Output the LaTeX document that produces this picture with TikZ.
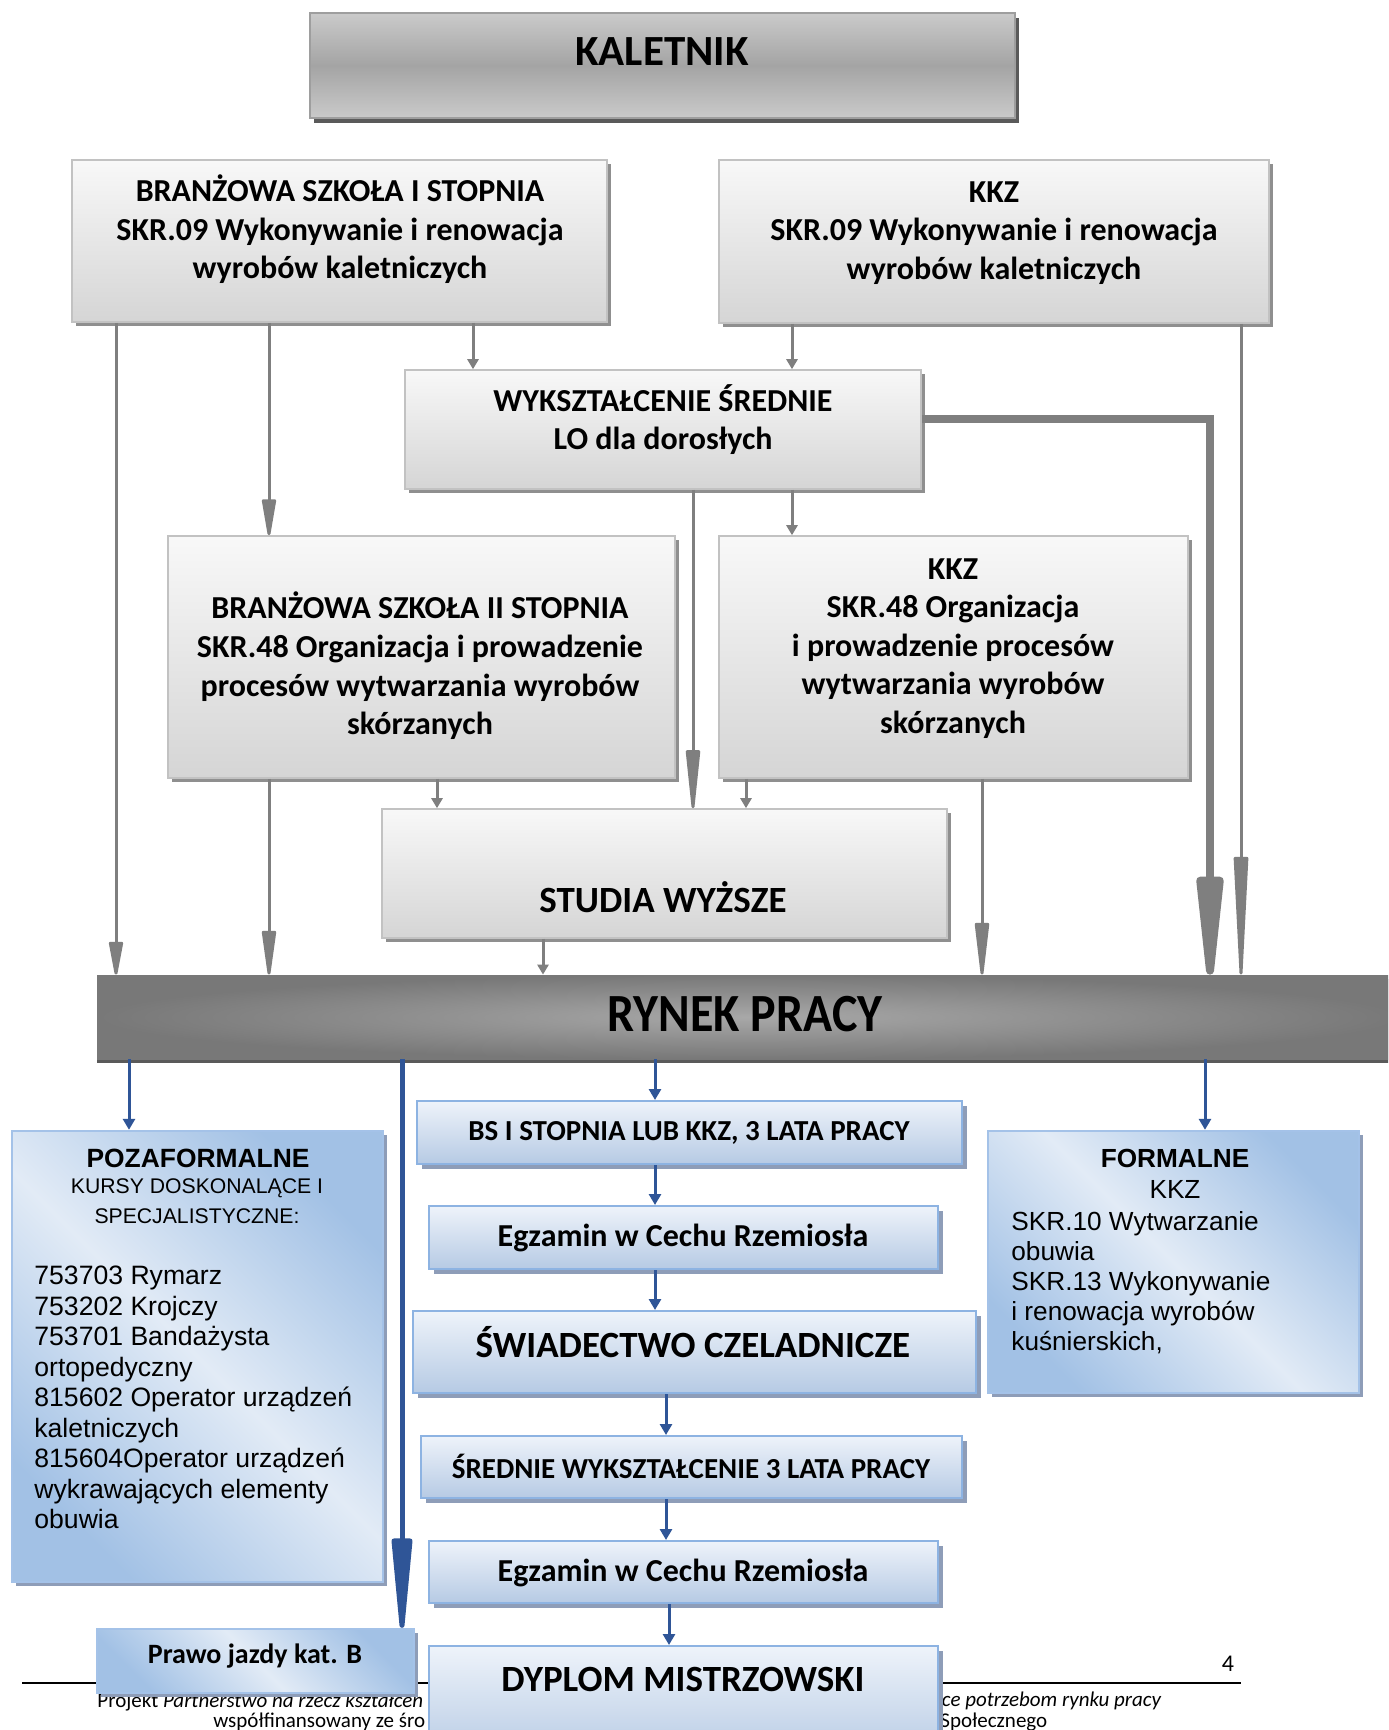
\documentclass[tikz,border=0pt]{standalone}
\usepackage{fontspec}
\setmainfont{Carlito}
\newfontfamily\arialf{Liberation Sans}
\usetikzlibrary{arrows.meta,fit,shadows,calc}
\definecolor{gtop}{HTML}{F8F8F8}
\definecolor{gbot}{HTML}{D5D5D5}
\definecolor{gbord}{HTML}{C2C2C2}
\definecolor{gshad}{HTML}{8F8F8F}
\definecolor{ktop}{HTML}{CACACA}
\definecolor{kmid}{HTML}{A4A4A4}
\definecolor{kbord}{HTML}{9E9E9E}
\definecolor{kshad}{HTML}{5A5A5A}
\definecolor{rin}{HTML}{A8A8A8}
\definecolor{rout}{HTML}{787878}
\definecolor{btop}{HTML}{EEF3FA}
\definecolor{bbot}{HTML}{B6CAE4}
\definecolor{bbord}{HTML}{8DB3E2}
\definecolor{bshad}{HTML}{8E9DB8}
\definecolor{dlight}{HTML}{E2EBF6}
\definecolor{ddark}{HTML}{A2C1E5}
\definecolor{garrow}{HTML}{7F7F7F}
\definecolor{barrow}{HTML}{2F5597}
\pgfdeclarehorizontalshading{diagblue}{100bp}{color(0bp)=(ddark); color(25bp)=(ddark); color(50bp)=(dlight); color(75bp)=(ddark); color(100bp)=(ddark)}
\pgfdeclareverticalshading{kshade}{100bp}{color(0bp)=(ktop); color(25bp)=(ktop); color(50bp)=(kmid); color(75bp)=(ktop); color(100bp)=(ktop)}
\begin{document}
\begin{tikzpicture}[x=0.5pt,y=-0.5pt,
  graybox/.style={draw=gbord, line width=0.8pt, top color=gtop, bottom color=gbot,
    general shadow={fill=gshad, shadow xshift=2pt, shadow yshift=-2pt}, inner sep=0pt},
  titlebox/.style={draw=kbord, line width=1.2pt, shade, shading=kshade,
    general shadow={fill=kshad, shadow xshift=2pt, shadow yshift=-2.5pt}, inner sep=0pt},
  marketbox/.style={inner color=rin, outer color=rout,
    general shadow={fill=kshad, shadow xshift=0pt, shadow yshift=-2pt}, inner sep=0pt},
  bluebox/.style={draw=bbord, line width=1pt, top color=btop, bottom color=bbot,
    general shadow={fill=bshad, shadow xshift=2.5pt, shadow yshift=-2.5pt}, inner sep=0pt},
  diagbox/.style={draw=bbord!80, line width=1.2pt, shade, shading=diagblue, shading angle=45,
    general shadow={fill=bshad, shadow xshift=2pt, shadow yshift=-2pt}, inner sep=0pt},
  gtext/.style={font=\fontsize{16}{19.3}\selectfont\bfseries, align=center, inner sep=0pt},
  btext/.style={font=\fontsize{#1}{#1}\selectfont\bfseries, inner sep=0pt},
  garr/.style={draw=garrow, line width=1.5pt, -{Triangle[length=5pt,width=5.5pt]}},
  garrl/.style={draw=garrow, line width=1.5pt, -{Triangle[length=#1,width=7pt,round]}},
  barr/.style={draw=barrow, line width=1.5pt, -{Triangle[length=5.5pt,width=6pt]}},
  foot/.style={font=\fontsize{10.5}{12}\selectfont, inner sep=0pt}
]
\path[use as bounding box, clip] (0,0) rectangle (1388,1730);
\fill[white] (0,0) rectangle (1388,1730);

% footer (behind boxes)
\coordinate (fl) at (22,1683);
\coordinate (fr) at (1241,1683);
\draw[line width=0.6pt] (fl) -- (fr);
\node[anchor=west, foot] (f1) at (97,1702) {Projekt \textit{Partnerstwo na rzecz kształcen}};
\node[anchor=east, foot] (f2) at (1162,1701) {\textit{ce potrzebom rynku pracy}};
\node[anchor=west, foot] (f3) at (213,1722) {współfinansowany ze śro};
\node[anchor=west, foot] (f4) at (940,1722) {Społecznego};
\node[font=\fontsize{12}{14}\selectfont, inner sep=0pt] (pg) at (1228,1664) {4};

% boxes
\node[titlebox, fit={(310,13) (1015,118)}] (kal) {};
\node[graybox, fit={(72,160) (607,322)}] (bs1) {};
\node[graybox, fit={(719,160) (1269,323)}] (kkz1) {};
\node[graybox, fit={(405,370) (921,489)}] (wyk) {};
\node[graybox, fit={(168,536) (675,778)}] (bs2) {};
\node[graybox, fit={(719,536) (1188,778)}] (kkz2) {};
\node[graybox, fit={(382,809) (947,938)}] (stud) {};
\node[marketbox, fit={(97,975) (1400,1059)}] (ryn) {};
\node[diagbox, fit={(12,1131) (383,1582)}] (poz) {};
\node[diagbox, fit={(988,1131) (1359,1393)}] (form) {};
\node[diagbox, fit={(97,1629) (414,1693)}] (prawo) {};
\node[bluebox, fit={(417,1101) (962,1164)}] (c1) {};
\node[bluebox, fit={(429,1206) (938,1269)}] (c2) {};
\node[bluebox, fit={(413,1311) (976,1393)}] (c3) {};
\node[bluebox, fit={(421,1436) (962,1498)}] (c4) {};
\node[bluebox, fit={(429,1541) (938,1603)}] (c5) {};
\node[bluebox, fit={(429,1646) (938,1760)}] (c6) {};

% texts
\node[btext=21.5] (kalt) at (662,52) {KALETNIK};
\node[gtext] (bs1t) at (340,229.5) {BRANŻOWA SZKOŁA I STOPNIA\\SKR.09 Wykonywanie i renowacja\\wyrobów kaletniczych};
\node[gtext] (kkz1t) at (994,233) {KKZ\\SKR.09 Wykonywanie i renowacja\\wyrobów kaletniczych};
\node[gtext] (wykt) at (663,419.5) {WYKSZTAŁCENIE ŚREDNIE\\LO dla dorosłych};
\node[gtext] (bs2t) at (420,666) {BRANŻOWA SZKOŁA II STOPNIA\\SKR.48 Organizacja i prowadzenie\\procesów wytwarzania wyrobów\\skórzanych};
\node[gtext] (kkz2t) at (953,648.5) {KKZ\\SKR.48 Organizacja\\i prowadzenie procesów\\wytwarzania wyrobów\\skórzanych};
\node[btext=18.5] (studt) at (663,897) {STUDIA WYŻSZE};
\node[btext=24] (rynt) at (745,1014) {\scalebox{1}[1.12]{RYNEK PRACY}};
\node[btext=14.5] (c1t) at (689,1133) {BS I STOPNIA LUB KKZ, 3 LATA PRACY};
\node[btext=16] (c2t) at (683,1238) {Egzamin w Cechu Rzemiosła};
\node[btext=18.5] (c3t) at (693,1342) {ŚWIADECTWO CZELADNICZE};
\node[btext=14.5] (c4t) at (691,1466) {ŚREDNIE WYKSZTAŁCENIE 3 LATA PRACY};
\node[btext=16] (c5t) at (683,1573) {Egzamin w Cechu Rzemiosła};
\node[btext=18.5] (c6t) at (683,1679) {DYPLOM MISTRZOWSKI};
\node[btext=14] (prt) at (255,1656) {Prawo jazdy kat. B};

\node[font=\arialf\fontsize{13.2}{15}\selectfont\bfseries, inner sep=0pt] (pozh) at (198,1158) {POZAFORMALNE};
\node[font=\arialf\fontsize{10.6}{12}\selectfont, inner sep=0pt] (pozs1) at (197,1188) {KURSY DOSKONALĄCE I};
\node[font=\arialf\fontsize{10.6}{12}\selectfont, inner sep=0pt] (pozs2) at (197,1216) {SPECJALISTYCZNE:};
\node[font=\arialf\fontsize{13.3}{15.25}\selectfont, align=left, anchor=north west, inner sep=0pt] (pozl) at (34,1266)
 {753703 Rymarz\\753202 Krojczy\\753701 Bandażysta\\ortopedyczny\\815602 Operator urządzeń\\kaletniczych\\815604Operator urządzeń\\wykrawających elementy\\obuwia};
\node[font=\arialf\fontsize{13.1}{15}\selectfont\bfseries, inner sep=0pt] (formh) at (1175,1158) {FORMALNE};
\node[font=\arialf\fontsize{13.1}{15}\selectfont, inner sep=0pt] (formk) at (1175,1189) {KKZ};
\node[font=\arialf\fontsize{13.1}{15}\selectfont, align=left, anchor=north west, inner sep=0pt] (forml) at (1011,1211)
 {SKR.10 Wytwarzanie\\obuwia\\SKR.13 Wykonywanie\\i renowacja wyrobów\\kuśnierskich,};

% column coordinates
\coordinate (xa) at (116,0);
\coordinate (xb) at (269,0);
\coordinate (xc) at (473,0);
\coordinate (xd) at (792,0);
\coordinate (xe) at (693,0);
\coordinate (xf) at (1241,0);
\coordinate (xg) at (437,0);
\coordinate (xh) at (746,0);
\coordinate (xi) at (982,0);
\coordinate (xj) at (543,0);
\coordinate (kt) at (1210,419);

% gray connectors
\draw[garrl=20pt] (bs1.south -| xa) -- (ryn.north -| xa);
\draw[garrl=22pt] (bs1.south -| xb) -- (bs2.north -| xb);
\draw[garr] (bs1.south -| xc) -- (wyk.north -| xc);
\draw[garr] (kkz1.south -| xd) -- (wyk.north -| xd);
\draw[garr] (wyk.south -| xd) -- (kkz2.north -| xd);
\draw[garrl=36pt] (wyk.south -| xe) -- (stud.north -| xe);
\draw[draw=garrow, line width=4pt, line join=miter, -{Triangle[length=68pt,width=13pt,round]}]
  (wyk.east |- kt) -- (kt) -- (ryn.north -| kt);
\draw[garrl=74pt] (kkz1.south -| xf) -- (ryn.north -| xf);
\draw[garr] (bs2.south -| xg) -- (stud.north -| xg);
\draw[garr] (kkz2.south -| xh) -- (stud.north -| xh);
\draw[garrl=32pt] (kkz2.south -| xi) -- (ryn.north -| xi);
\draw[garr] (stud.south -| xj) -- (ryn.north -| xj);
\draw[garrl=27pt] (bs2.south -| xb) -- (ryn.north -| xb);

% blue connectors
\coordinate (ya) at (129,0);
\coordinate (yb) at (402,0);
\coordinate (yc) at (655,0);
\coordinate (yd) at (1205,0);
\coordinate (ye) at (666,0);
\coordinate (yf) at (669,0);
\draw[barr] (ryn.south -| ya) -- (poz.north -| ya);
\draw[draw=barrow, line width=2.5pt, -{Triangle[length=58pt,width=10pt,round]}] (ryn.south -| yb) -- (prawo.north -| yb);
\draw[barr] (ryn.south -| yc) -- (c1.north -| yc);
\draw[barr] (ryn.south -| yd) -- (form.north -| yd);
\draw[barr] (c1.south -| yc) -- (c2.north -| yc);
\draw[barr] (c2.south -| yc) -- (c3.north -| yc);
\draw[barr] (c3.south -| ye) -- (c4.north -| ye);
\draw[barr] (c4.south -| ye) -- (c5.north -| ye);
\draw[barr] (c5.south -| yf) -- (c6.north -| yf);
\end{tikzpicture}
\end{document}
